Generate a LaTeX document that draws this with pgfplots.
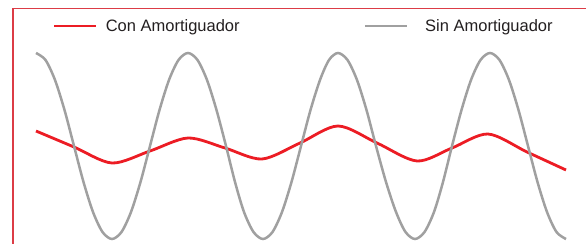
\documentclass[border=0pt]{standalone}
\usepackage{fontspec}
\setmainfont{Liberation Sans}
\usepackage{pgfplots}
\pgfplotsset{compat=1.18}
\definecolor{cred}{RGB}{236,28,36}
\definecolor{cgray}{RGB}{160,160,160}
\definecolor{cframe}{RGB}{220,60,70}
\definecolor{ctext}{RGB}{35,31,32}
\begin{document}
\begin{tikzpicture}
\path[use as bounding box] (0,0) rectangle (586bp,244bp);
\begin{axis}[
  at={(0,0)}, anchor=south west,
  scale only axis, width=586bp, height=244bp,
  xmin=0, xmax=586, ymin=0, ymax=244, y dir=reverse,
  hide axis, clip=false,
  legend columns=2,
  legend image code/.code={\draw[#1] (0bp,0bp) -- (42bp,0bp);},
  legend style={at={(axis cs:53,26)}, anchor=west, draw=none, fill=none,
    inner sep=0pt, outer sep=0pt,
    font=\fontsize{16.5bp}{20bp}\selectfont\color{ctext},
    nodes={inner sep=0pt},
    /tikz/every odd column/.style={column sep=8bp},
    /tikz/every even column/.style={column sep=124bp}},
]
\draw[cframe, line width=1.3bp] (axis cs:13,8.5) -- (axis cs:586,8.5);
\draw[cframe, line width=1.3bp] (axis cs:13,8.5) -- (axis cs:13,244);
\addplot[cred, line width=2.8bp, smooth] coordinates {
(36,131) (74,147) (112,163) (150,151) (188,138) (225,148) (262,159)
(300,143) (338,126) (377,143) (417,161) (452,148) (488,134) (527,152) (566,170)};
\addlegendentry{Con Amortiguador}
\addplot[cgray, line width=2.5bp, smooth] coordinates {
(36,53) (45.5,60) (55,80) (64.5,110) (74,146) (83.5,182) (93,212) (102.5,232)
(112,239) (121.5,232) (131,212) (140.5,182) (150,146) (159.5,110) (169,80) (178.5,60)
(188,53) (197.5,60) (207,80) (216.5,110) (226,146) (235,182) (244,212) (253.5,232)
(263,239) (272.5,232) (282,212) (291.5,182) (301,146) (310.5,110) (320,80) (329,60)
(338,53) (347.5,60) (357,80) (366.5,110) (376,146) (386,182) (396,212) (405.5,232)
(415,239) (424.5,232) (434,212) (443,182) (452,146) (461.5,110) (471,80) (480.5,60)
(490,53) (499.5,60) (509,80) (518.5,110) (528,146) (537.5,182) (547,212) (556.5,232)
(566,239)};
\addlegendentry{\hspace{9bp}Sin Amortiguador}
\end{axis}
\end{tikzpicture}
\end{document}
